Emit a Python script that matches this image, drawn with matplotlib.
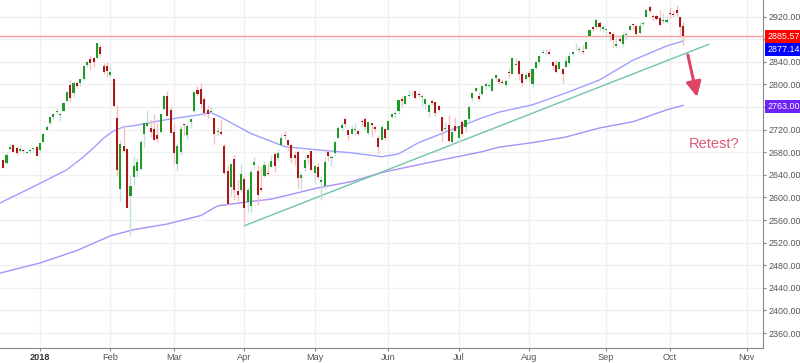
import numpy as np
import pandas as pd
import matplotlib
matplotlib.use('Agg')
import matplotlib.pyplot as plt

# S&P 500 daily candles, 14 Dec 2017 .. 5 Oct 2018 (one row per trading day)
opens = [2666, 2661, 2686, 2693, 2688, 2683, 2684, 2679, 2682, 2686, 2689,
         2684, 2698, 2719, 2731, 2743, 2751, 2746, 2753, 2770, 2799, 2785, 2802, 2803, 2809, 2835, 2845, 2846, 2847, 2867, 2833, 2832,
         2816, 2809, 2741, 2615, 2691, 2685, 2602, 2637, 2646, 2651, 2713, 2727, 2723, 2721, 2710, 2716, 2757, 2780, 2754,
         2715, 2659, 2681, 2730, 2710, 2733, 2753, 2791, 2792, 2774, 2754, 2751, 2741, 2715, 2715, 2691, 2647, 2619, 2668, 2611, 2614,
         2633, 2592, 2584, 2657, 2646, 2617, 2638, 2644, 2654, 2677, 2670, 2693, 2710, 2701, 2693, 2675, 2681, 2635, 2652, 2675, 2683,
         2643, 2654, 2628, 2621, 2680, 2670, 2678, 2705, 2723, 2738, 2719, 2713, 2720, 2717, 2735, 2738, 2714, 2731, 2724, 2705, 2702, 2721,
         2719, 2742, 2748, 2753, 2775, 2766, 2780, 2786, 2788, 2783, 2778, 2766, 2752, 2770, 2769, 2761, 2743, 2722, 2728, 2699, 2727,
         2705, 2733, 2724, 2738, 2776, 2789, 2780, 2783, 2797, 2797, 2789, 2811, 2809, 2805, 2799, 2821, 2818, 2835, 2842, 2819, 2810,
         2821, 2800, 2830, 2840, 2856, 2857, 2857, 2839, 2835, 2828, 2828, 2831, 2838, 2854, 2862, 2861, 2860, 2862, 2885, 2901, 2901, 2909, 2898,
         2897, 2892, 2889, 2868, 2881, 2872, 2888, 2897, 2906, 2904, 2891, 2907, 2920, 2937, 2922, 2922, 2917, 2912, 2910,
         2926, 2924, 2932, 2919, 2903]
highs = [2668, 2680, 2695, 2694, 2691, 2693, 2685, 2683, 2686, 2688, 2692,
         2696, 2714, 2729, 2743, 2749, 2759, 2751, 2768, 2788, 2808, 2807, 2806, 2810, 2833, 2842, 2853, 2849, 2873, 2871, 2838, 2839,
         2836, 2809, 2763, 2701, 2728, 2685, 2639, 2673, 2669, 2702, 2732, 2754, 2738, 2748, 2731, 2748, 2781, 2789, 2762,
         2731, 2696, 2728, 2732, 2731, 2740, 2787, 2797, 2802, 2777, 2763, 2762, 2741, 2724, 2739, 2696, 2658, 2661, 2675, 2633, 2659,
         2638, 2619, 2650, 2672, 2657, 2654, 2665, 2661, 2675, 2680, 2686, 2713, 2717, 2703, 2694, 2683, 2684, 2645, 2676, 2677, 2683,
         2655, 2661, 2637, 2671, 2683, 2676, 2701, 2726, 2733, 2742, 2719, 2728, 2732, 2720, 2739, 2742, 2733, 2732, 2727, 2711, 2729, 2723,
         2737, 2749, 2753, 2772, 2780, 2779, 2790, 2790, 2791, 2789, 2783, 2775, 2765, 2775, 2769, 2764, 2743, 2733, 2746, 2724, 2743,
         2727, 2737, 2738, 2764, 2785, 2796, 2786, 2799, 2805, 2801, 2814, 2817, 2812, 2810, 2809, 2830, 2848, 2846, 2843, 2822, 2824,
         2826, 2830, 2840, 2853, 2863, 2862, 2862, 2842, 2843, 2843, 2828, 2850, 2856, 2860, 2873, 2868, 2869, 2876, 2898, 2904, 2917, 2912, 2906,
         2900, 2894, 2892, 2884, 2887, 2893, 2895, 2907, 2908, 2905, 2911, 2912, 2935, 2941, 2924, 2924, 2931, 2927, 2921,
         2937, 2931, 2940, 2920, 2910]
lows = [2652, 2659, 2686, 2681, 2676, 2682, 2678, 2678, 2679, 2683, 2674,
        2682, 2698, 2719, 2728, 2738, 2748, 2736, 2753, 2770, 2769, 2778, 2793, 2798, 2808, 2831, 2825, 2831, 2846, 2851, 2818, 2813,
        2813, 2760, 2638, 2593, 2681, 2581, 2533, 2622, 2637, 2649, 2690, 2725, 2707, 2701, 2698, 2714, 2754, 2744, 2714,
        2660, 2647, 2676, 2711, 2702, 2723, 2752, 2779, 2759, 2744, 2741, 2750, 2695, 2710, 2710, 2642, 2586, 2602, 2596, 2593, 2610,
        2554, 2575, 2574, 2650, 2586, 2611, 2636, 2639, 2654, 2645, 2665, 2692, 2704, 2682, 2661, 2658, 2617, 2613, 2647, 2659, 2648,
        2625, 2632, 2595, 2615, 2665, 2655, 2674, 2705, 2717, 2725, 2702, 2712, 2711, 2709, 2726, 2722, 2710, 2707, 2715, 2677, 2702, 2701,
        2719, 2741, 2740, 2748, 2760, 2764, 2780, 2779, 2775, 2777, 2762, 2757, 2743, 2764, 2744, 2753, 2699, 2716, 2699, 2692, 2718,
        2699, 2711, 2716, 2734, 2771, 2786, 2771, 2782, 2792, 2793, 2789, 2806, 2800, 2800, 2795, 2811, 2818, 2835, 2808, 2798, 2808,
        2806, 2796, 2827, 2836, 2856, 2853, 2852, 2826, 2820, 2827, 2802, 2831, 2834, 2851, 2861, 2856, 2854, 2862, 2885, 2894, 2898, 2895, 2892,
        2885, 2877, 2867, 2864, 2876, 2867, 2879, 2896, 2896, 2886, 2890, 2904, 2920, 2927, 2913, 2914, 2903, 2909, 2908,
        2918, 2919, 2921, 2884, 2869]
closes = [2652, 2676, 2690, 2681, 2679, 2685, 2683, 2681, 2683, 2688, 2674,
          2696, 2713, 2724, 2743, 2748, 2751, 2748, 2768, 2786, 2776, 2803, 2798, 2810, 2833, 2839, 2838, 2839, 2873, 2854, 2822, 2824,
          2822, 2762, 2649, 2695, 2682, 2581, 2620, 2656, 2663, 2699, 2731, 2732, 2716, 2701, 2704, 2747, 2780, 2744, 2714,
          2678, 2691, 2721, 2728, 2727, 2739, 2787, 2783, 2765, 2749, 2747, 2752, 2713, 2717, 2712, 2644, 2588, 2659, 2613, 2605, 2641,
          2582, 2614, 2645, 2663, 2604, 2613, 2657, 2642, 2664, 2656, 2678, 2706, 2709, 2693, 2670, 2670, 2635, 2639, 2667, 2670, 2648,
          2655, 2636, 2630, 2663, 2673, 2672, 2698, 2723, 2728, 2730, 2711, 2722, 2720, 2713, 2733, 2724, 2733, 2728, 2721, 2690, 2724, 2705,
          2735, 2747, 2749, 2772, 2770, 2779, 2782, 2787, 2776, 2782, 2780, 2774, 2763, 2767, 2750, 2755, 2717, 2723, 2700, 2716, 2718,
          2727, 2713, 2737, 2760, 2784, 2794, 2774, 2798, 2801, 2798, 2810, 2816, 2804, 2802, 2807, 2820, 2846, 2837, 2819, 2803, 2816,
          2813, 2827, 2840, 2850, 2858, 2858, 2854, 2833, 2822, 2840, 2818, 2841, 2850, 2857, 2863, 2862, 2857, 2875, 2897, 2898, 2914, 2901, 2902,
          2897, 2889, 2878, 2872, 2877, 2888, 2889, 2904, 2905, 2889, 2904, 2908, 2931, 2930, 2919, 2916, 2906, 2914, 2914,
          2925, 2923, 2926, 2902, 2886]

# moving averages as (bar index, value) points
ma50_idx = [-1, 9, 19, 24, 27, 30, 33, 36, 39, 48, 58, 62, 65, 69, 74, 84, 94, 104, 113, 118, 124, 133, 143, 148, 158, 168, 178, 188, 198, 203]
ma50_val = [2590, 2619, 2649, 2672, 2688, 2705, 2718, 2725, 2727, 2737, 2746, 2750, 2742, 2729, 2713, 2690, 2684, 2679, 2672, 2677, 2697,
            2718, 2741, 2751, 2764, 2785, 2808, 2843, 2868, 2877]
ma200_idx = [-1, 11, 22, 32, 39, 49, 59, 64, 74, 80, 94, 104, 113, 124, 133, 143, 148, 158, 168, 178, 188, 198, 203]
ma200_val = [2466, 2484, 2506, 2532, 2543, 2553, 2568, 2585, 2593, 2597, 2617, 2628, 2644, 2658, 2669, 2681, 2689, 2697, 2707, 2723, 2734,
             2755, 2763]

trend_idx = [72, 210.6]
trend_val = [2550, 2871]

last_close = 2885.57
ma50_last = 2877.14
ma200_last = 2763.00

month_idx = [11, 32, 51, 72, 93, 115, 136, 157, 180, 199, 222]
month_lbl = ['2018', 'Feb', 'Mar', 'Apr', 'May', 'Jun', 'Jul', 'Aug', 'Sep', 'Oct', 'Nov']

ytick_vals = list(range(2360, 2921, 40))
hidden_ticks = [2760, 2880]   # covered by the price tags

plt.rcParams['font.family'] = ['Liberation Sans', 'DejaVu Sans']

o = np.array(opens, float)
h = np.array(highs, float)
l = np.array(lows, float)
c = np.array(closes, float)
x = np.arange(len(c))
up = c >= o

fig = plt.figure(figsize=(8, 3.63), dpi=100)
ax = fig.add_axes([0, 15 / 363, 763 / 800, 348 / 363])

ax.set_xlim(-0.95, 226.8)
ax.set_ylim(2333.5, 2949.5)

# grid
for yv in ytick_vals:
    ax.axhline(yv, color='#f0f0f3', lw=1, zorder=0)
for xv in month_idx:
    ax.axvline(xv, color='#f0f0f3', lw=1, zorder=0)

# moving averages
ax.plot(ma50_idx, ma50_val, color='#a0a0ff', lw=1, zorder=2)
ax.plot(ma200_idx, ma200_val, color='#ab90f7', lw=1, zorder=2)

# trend line and last price line
ax.plot(trend_idx, trend_val, color='#72c4ac', lw=1, zorder=2)
ax.axhline(last_close, color='#ff9a9a', lw=1, zorder=1)

# candles
ax.vlines(x[up], l[up], h[up], color='#c5dfe0', lw=1, zorder=3)
ax.vlines(x[~up], l[~up], h[~up], color='#f6c0c0', lw=1, zorder=3)
body = np.maximum(np.abs(c - o), 1.2)
ax.bar(x[up], body[up], bottom=np.minimum(o, c)[up], width=0.62, color='#1f9a24', lw=0, zorder=4)
ax.bar(x[~up], body[~up], bottom=np.minimum(o, c)[~up], width=0.62, color='#a81a1a', lw=0, zorder=4)

# annotation arrow and text
ax.annotate('', xy=(207.3, 2773), xytext=(204.2, 2857),
            arrowprops=dict(arrowstyle='-|>,head_length=0.9,head_width=0.45', color='#dd4466', lw=2.2),
            zorder=5)
ax.text(204.5, 2694, 'Retest?', color='#e05a78', fontsize=10.5, va='center', ha='left')

# axes styling
for s in ['top', 'left']:
    ax.spines[s].set_visible(False)
ax.spines['right'].set_color('#888888')
ax.spines['bottom'].set_color('#888888')
ax.yaxis.tick_right()
ax.set_yticks(ytick_vals)
ax.set_yticklabels(['' if v in hidden_ticks else '%.2f' % v for v in ytick_vals])
ax.tick_params(axis='y', colors='#888888', labelcolor='#555555', labelsize=6.4, length=2.5, pad=1.5)
ax.set_xticks(month_idx)
ax.set_xticklabels(month_lbl)
ax.tick_params(axis='x', colors='#888888', labelcolor='#555555', labelsize=6.6, length=2.5, pad=0.8)
ax.get_xticklabels()[0].set_fontweight('bold')
ax.get_xticklabels()[0].set_color('#333333')

# price tags on the right axis
def tag(val, txt, col, dy=0):
    ax.annotate(txt, xy=(1, val), xycoords=('axes fraction', 'data'),
                xytext=(3, dy), textcoords='offset points', va='center', ha='left',
                color='white', fontsize=6.4, annotation_clip=False,
                bbox=dict(boxstyle='square,pad=0.22', fc=col, ec='none'), zorder=10)

tag(last_close, '%.2f' % last_close, '#ff0000')
tag(ma50_last, '%.2f' % ma50_last, '#0000ff', dy=-6.5)
tag(ma200_last, '%.2f' % ma200_last, '#6a22f5', dy=-1)

fig.savefig('out.png', dpi=100, facecolor='white')
